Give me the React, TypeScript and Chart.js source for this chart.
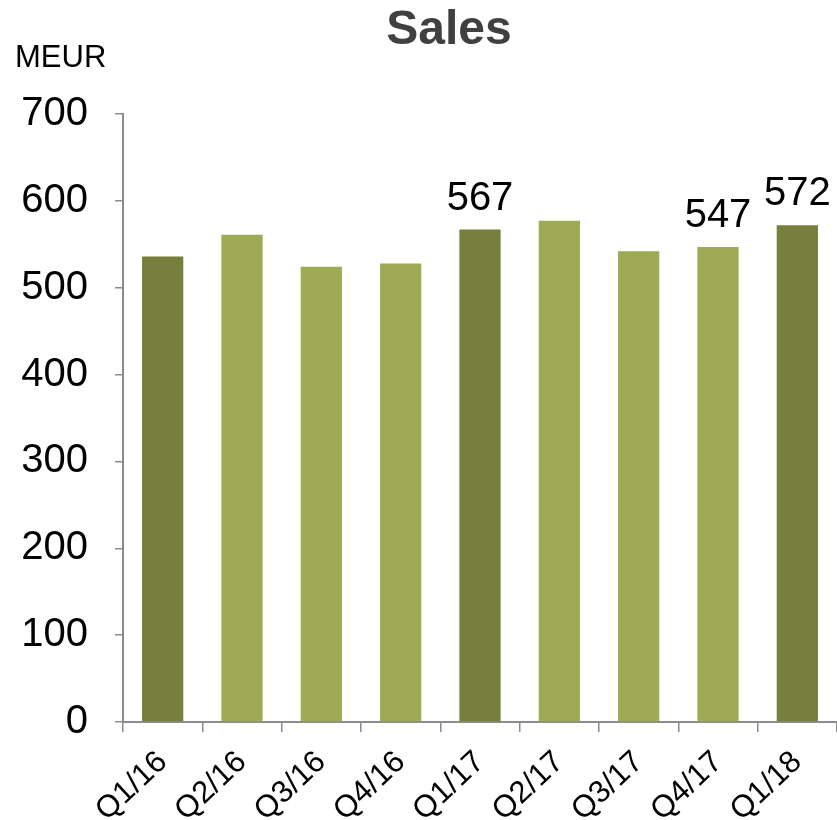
import React, { useEffect, useRef } from "react";
import { Chart, registerables } from "chart.js";

Chart.register(...registerables);

const categories = ["Q1/16", "Q2/16", "Q3/16", "Q4/16", "Q1/17", "Q2/17", "Q3/17", "Q4/17", "Q1/18"];
const sales = [536, 561, 524, 528, 567, 577, 542, 547, 572];
const isFirstQuarter = [true, false, false, false, true, false, false, false, true];
const showValue = [false, false, false, false, true, false, false, true, true];
const titleText = "Sales";
const unitText = "MEUR";
const yMax = 700;
const yStep = 100;

const DARK = "#777F3D";
const LIGHT = "#9FAA55";
const AXIS = "#8C8C8C";
const FONT = "'Liberation Sans', Arial, sans-serif";

export default function App() {
  const ref = useRef<HTMLCanvasElement | null>(null);

  useEffect(() => {
    document.body.style.margin = "0";
    const canvas = ref.current;
    if (!canvas) return;

    const textPlugin = {
      id: "texts",
      afterDraw(chart: any) {
        const ctx = chart.ctx;
        ctx.save();
        ctx.fillStyle = "#404040";
        ctx.font = `bold 48px ${FONT}`;
        ctx.textAlign = "center";
        ctx.textBaseline = "alphabetic";
        ctx.fillText(titleText, 449, 44);
        ctx.fillStyle = "#000000";
        ctx.font = `31px ${FONT}`;
        ctx.textAlign = "left";
        ctx.fillText(unitText, 15, 67);
        ctx.restore();
      },
      afterDatasetsDraw(chart: any) {
        const ctx = chart.ctx;
        const meta = chart.getDatasetMeta(0);
        ctx.save();
        ctx.fillStyle = "#000000";
        ctx.font = `40px ${FONT}`;
        ctx.textAlign = "center";
        ctx.textBaseline = "alphabetic";
        meta.data.forEach((bar: any, i: number) => {
          if (!showValue[i]) return;
          ctx.fillText(String(sales[i]), bar.x, bar.y - 20);
        });
        ctx.restore();
      },
    };

    const chart = new Chart(canvas, {
      type: "bar",
      data: {
        labels: categories,
        datasets: [
          {
            data: sales,
            backgroundColor: isFirstQuarter.map((d) => (d ? DARK : LIGHT)),
            borderWidth: 0,
            categoryPercentage: 1,
            barPercentage: 0.52,
          },
        ],
      },
      options: {
        animation: false,
        responsive: false,
        maintainAspectRatio: false,
        layout: { padding: { top: 114, left: 0, right: 0, bottom: 0 } },
        plugins: {
          legend: { display: false },
          title: { display: false },
          tooltip: { enabled: false },
        },
        scales: {
          x: {
            offset: true,
            grid: {
              offset: true,
              drawOnChartArea: false,
              drawTicks: true,
              tickLength: 10,
              color: AXIS,
              lineWidth: 1.5,
            },
            border: { color: AXIS, width: 2 },
            ticks: {
              color: "#000000",
              font: { family: FONT, size: 31 },
              minRotation: 43,
              maxRotation: 43,
              padding: 12,
              autoSkip: false,
            },
            afterFit(scale: any) {
              scale.height = 98;
            },
          },
          y: {
            min: 0,
            max: yMax,
            grid: {
              drawOnChartArea: false,
              drawTicks: true,
              tickLength: 8,
              color: AXIS,
              lineWidth: 1.5,
            },
            border: { color: AXIS, width: 2 },
            ticks: {
              stepSize: yStep,
              color: "#000000",
              font: { family: FONT, size: 40 },
              padding: 27,
            },
            afterFit(scale: any) {
              scale.width = 123;
            },
          },
        },
      },
      plugins: [textPlugin],
    });

    return () => chart.destroy();
  }, []);

  return (
    <div style={{ width: 837, height: 820 }}>
      <canvas ref={ref} width={837} height={820} style={{ display: "block" }} />
    </div>
  );
}
